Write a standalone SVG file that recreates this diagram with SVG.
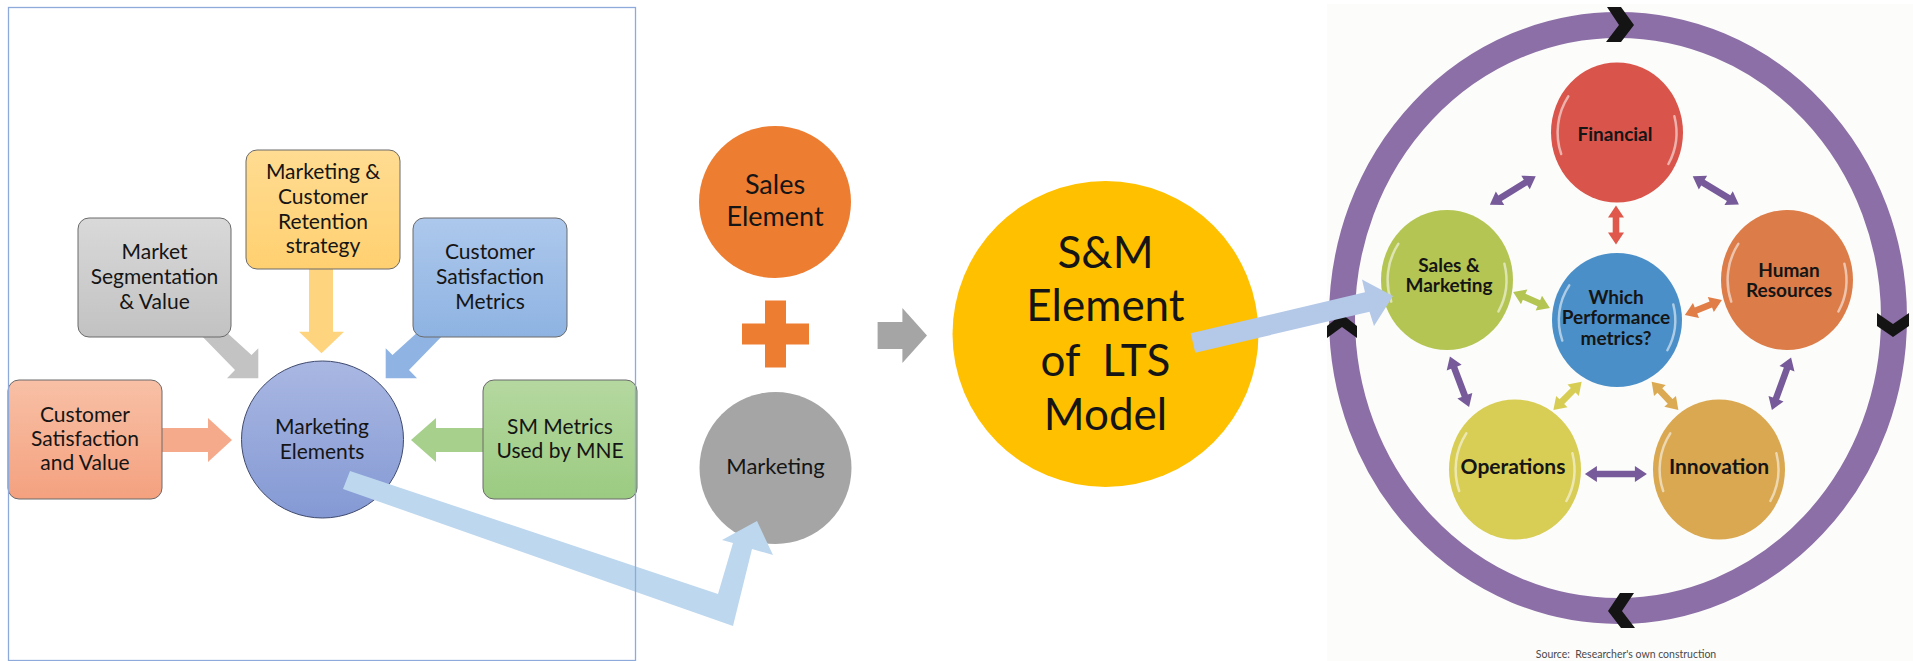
<svg xmlns="http://www.w3.org/2000/svg" width="1913" height="661" viewBox="0 0 1913 661">
  <style>
    .lbl { font-family: Lato, "Liberation Sans", sans-serif; fill: #151515; text-anchor: middle; }
    .box { stroke: #6a6a6a; stroke-width: 1; }
    .big { font-size: 21px; }
    .node { font-weight: bold; font-size: 19px; }
    .nodeL { font-weight: bold; font-size: 21px; }
    .chev { fill: #141414; }
    .gloss { fill: none; stroke: #ffffff; stroke-width: 2.5; stroke-opacity: 0.55; stroke-linecap: round; }
  </style>
  <defs>
    <linearGradient id="gGray" x1="0" y1="0" x2="0" y2="1"><stop offset="0" stop-color="#d9d9d9"/><stop offset="1" stop-color="#c2c2c2"/></linearGradient>
    <linearGradient id="gYellow" x1="0" y1="0" x2="0" y2="1"><stop offset="0" stop-color="#ffdc92"/><stop offset="1" stop-color="#ffd070"/></linearGradient>
    <linearGradient id="gBlue" x1="0" y1="0" x2="0" y2="1"><stop offset="0" stop-color="#adc8ec"/><stop offset="1" stop-color="#8eb3e2"/></linearGradient>
    <linearGradient id="gSalmon" x1="0" y1="0" x2="0" y2="1"><stop offset="0" stop-color="#f8c0a6"/><stop offset="1" stop-color="#f4a17f"/></linearGradient>
    <linearGradient id="gGreen" x1="0" y1="0" x2="0" y2="1"><stop offset="0" stop-color="#b5d8a0"/><stop offset="1" stop-color="#9bcb81"/></linearGradient>
    <linearGradient id="gCircle" x1="0" y1="0" x2="0" y2="1"><stop offset="0" stop-color="#a9b7e2"/><stop offset="1" stop-color="#8499d4"/></linearGradient>

    <!-- double-headed arrows along x, centred on the origin -->
    <polygon id="d39" points="-19.5,0 -7.5,-8 -7.5,-3.3 7.5,-3.3 7.5,-8 19.5,0 7.5,8 7.5,3.3 -7.5,3.3 -7.5,8"/>
    <polygon id="d40" points="-20,0 -8,-8 -8,-3.3 8,-3.3 8,-8 20,0 8,8 8,3.3 -8,3.3 -8,8"/>
    <polygon id="d54" points="-27,0 -15,-8 -15,-3.3 15,-3.3 15,-8 27,0 15,8 15,3.3 -15,3.3 -15,8"/>
    <polygon id="d56" points="-28,0 -16,-8 -16,-3.3 16,-3.3 16,-8 28,0 16,8 16,3.3 -16,3.3 -16,8"/>
    <polygon id="d62" points="-31,0 -19,-8 -19,-3.3 19,-3.3 19,-8 31,0 19,8 19,3.3 -19,3.3 -19,8"/>

    <!-- glossy rim highlights for the round nodes -->
    <g id="shine">
      <path class="gloss" d="M -48.7,-36.1 A 59.4 63 0 0 0 -55.8,21.5"/>
      <path class="gloss" d="M 57.4,-16.3 A 59.4 63 0 0 1 51.4,31.5"/>
    </g>
  </defs>

  <rect width="1913" height="661" fill="#ffffff"/>

  <!-- ===== left panel: marketing elements ===== -->
  <g id="left-connectors">
    <polygon fill="#c3c3c3" points="196,330 224,330 251.5,355 258.3,348.3 258.3,378.3 227,378.3 235,370"/>
    <polygon fill="#ffd47e" points="309,262 333,262 333,331.7 344,331.7 321.5,353.3 299,331.7 309,331.7"/>
    <polygon fill="#8fb4e3" points="448,330 420,330 392.5,355 385.7,348.3 385.7,378.3 417,378.3 409,370"/>
    <polygon fill="#f5aa8b" points="160,428 208,428 208,418 232,440 208,462 208,452 160,452"/>
    <polygon fill="#a7d08c" points="485,428 436,428 436,418 411,440 436,462 436,452 485,452"/>
  </g>

  <g id="market-segmentation">
    <rect class="box" x="78" y="218" width="153" height="119" rx="11" fill="url(#gGray)"/>
    <text class="lbl big"><tspan x="154.5" y="259">Market</tspan><tspan x="154.5" y="283.5">Segmentation</tspan><tspan x="154.5" y="308.5">&amp; Value</tspan></text>
  </g>
  <g id="retention-strategy">
    <rect class="box" x="246" y="150" width="154" height="119" rx="11" fill="url(#gYellow)"/>
    <text class="lbl big"><tspan x="323" y="179">Marketing &amp;</tspan><tspan x="323" y="204">Customer</tspan><tspan x="323" y="228.5">Retention</tspan><tspan x="323" y="252.5">strategy</tspan></text>
  </g>
  <g id="satisfaction-metrics">
    <rect class="box" x="413" y="218" width="154" height="119" rx="11" fill="url(#gBlue)"/>
    <text class="lbl big"><tspan x="490" y="259">Customer</tspan><tspan x="490" y="284">Satisfaction</tspan><tspan x="490" y="308.5">Metrics</tspan></text>
  </g>
  <g id="satisfaction-value">
    <rect class="box" x="8" y="380" width="154" height="119" rx="11" fill="url(#gSalmon)"/>
    <text class="lbl big"><tspan x="85" y="422">Customer</tspan><tspan x="85" y="446">Satisfaction</tspan><tspan x="85" y="470">and Value</tspan></text>
  </g>
  <g id="sm-metrics">
    <rect class="box" x="483" y="380" width="154" height="119" rx="11" fill="url(#gGreen)"/>
    <text class="lbl big"><tspan x="560" y="433.5">SM Metrics</tspan><tspan x="560" y="457.5">Used by MNE</tspan></text>
  </g>
  <g id="marketing-elements">
    <ellipse cx="322.5" cy="439.5" rx="81" ry="78.5" fill="url(#gCircle)" stroke="#3f4a6e" stroke-width="1"/>
    <text class="lbl big"><tspan x="322" y="434">Marketing</tspan><tspan x="322" y="459">Elements</tspan></text>
  </g>

  <!-- ===== middle: sales + marketing ===== -->
  <g id="sales-element">
    <circle cx="775" cy="202" r="76" fill="#ed7d31"/>
    <text class="lbl" font-size="27"><tspan x="775" y="194">Sales</tspan><tspan x="775" y="225.5">Element</tspan></text>
  </g>
  <g id="plus">
    <path fill="#ed7d31" d="M765,300.5 h21 v23 h23 v21 h-23 v23 h-21 v-23 h-23 v-21 h23 z"/>
  </g>
  <g id="marketing">
    <circle cx="775.5" cy="468" r="76" fill="#a5a5a5"/>
    <text class="lbl" font-size="22" x="775.5" y="474">Marketing</text>
  </g>
  <g id="sm-element">
    <circle cx="1105.5" cy="334" r="153" fill="#ffc000"/>
    <text class="lbl" font-size="44" xml:space="preserve"><tspan x="1105.5" y="267.5">S&amp;M</tspan><tspan x="1105.5" y="321">Element</tspan><tspan x="1105.5" y="375.5">of  LTS</tspan><tspan x="1105.5" y="430">Model</tspan></text>
  </g>

  <!-- ===== right panel: performance metrics cycle ===== -->
  <g id="cycle">
    <rect x="1327" y="4" width="586" height="657" fill="#fcfcfa"/>
    <ellipse cx="1618" cy="318" rx="276" ry="293" fill="none" stroke="#8c6fa6" stroke-width="26"/>
    <polygon class="chev" points="1607,7 1621,7 1634,25 1621,42 1606,42 1619,25"/>
    <polygon class="chev" points="1877,313 1893,324 1909,313 1909,326 1893,337 1877,326"/>
    <polygon class="chev" points="1634,593 1620,593 1608,611 1621,628 1635,628 1622,611"/>
    <polygon class="chev" points="1327,338 1327,326 1342,314 1357,326 1357,338 1342,327"/>
  </g>

  <g id="cycle-connectors">
    <use href="#d54" fill="#765a9a" transform="translate(1512.8,190.4) rotate(-31.8)"/>
    <use href="#d54" fill="#765a9a" transform="translate(1715.8,190.4) rotate(31.3)"/>
    <use href="#d39" fill="#e0574b" transform="translate(1616,225) rotate(90)"/>
    <use href="#d40" fill="#b4c552" transform="translate(1531.5,300) rotate(23.4)"/>
    <use href="#d40" fill="#e17e47" transform="translate(1703.4,307.5) rotate(-22.2)"/>
    <use href="#d54" fill="#765a9a" transform="translate(1459.5,381.7) rotate(69.2)"/>
    <use href="#d56" fill="#765a9a" transform="translate(1781.5,383.7) rotate(110)"/>
    <use href="#d40" fill="#d7cd55" transform="translate(1567.5,395.9) rotate(135)"/>
    <use href="#d39" fill="#dcaa52" transform="translate(1665,395.9) rotate(46.8)"/>
    <use href="#d62" fill="#765a9a" transform="translate(1615.9,474)"/>
  </g>

  <g id="financial">
    <ellipse cx="1617" cy="132.5" rx="66" ry="70" fill="#d9544a"/>
    <use href="#shine" transform="translate(1617,132.5)"/>
    <text class="lbl node" x="1615" y="141">Financial</text>
  </g>
  <g id="sales-marketing">
    <ellipse cx="1447" cy="280" rx="66" ry="70" fill="#b5c553"/>
    <use href="#shine" transform="translate(1447,280)"/>
    <text class="lbl node"><tspan x="1449" y="272">Sales &amp;</tspan><tspan x="1449" y="292">Marketing</tspan></text>
  </g>
  <g id="which-metrics">
    <ellipse cx="1617" cy="320" rx="65" ry="67" fill="#4a8fc8"/>
    <use href="#shine" transform="translate(1617,320) scale(0.98,0.96)"/>
    <text class="lbl node"><tspan x="1616" y="303.5">Which</tspan><tspan x="1616" y="324">Performance</tspan><tspan x="1616" y="344.5">metrics?</tspan></text>
  </g>
  <g id="human-resources">
    <ellipse cx="1787" cy="280" rx="66" ry="70" fill="#dc7c48"/>
    <use href="#shine" transform="translate(1787,280)"/>
    <text class="lbl node"><tspan x="1789" y="277">Human</tspan><tspan x="1789" y="297">Resources</tspan></text>
  </g>
  <g id="operations">
    <ellipse cx="1515" cy="469.5" rx="66" ry="70" fill="#d8cd55"/>
    <use href="#shine" transform="translate(1515,469.5)"/>
    <text class="lbl nodeL" x="1513" y="474">Operations</text>
  </g>
  <g id="innovation">
    <ellipse cx="1719" cy="469.5" rx="66" ry="70" fill="#d9a851"/>
    <use href="#shine" transform="translate(1719,469.5)"/>
    <text class="lbl nodeL" x="1719" y="474">Innovation</text>
  </g>

  <text x="1626" y="658" font-family="Lato, 'Liberation Sans', sans-serif" font-size="10.5" fill="#4a4a4a" text-anchor="middle" xml:space="preserve">Source:  Researcher's own construction</text>

  <!-- ===== flow connectors between the three stages ===== -->
  <g id="connectors">
    <polygon fill="#a5a5a5" points="877.6,322 902.4,322 902.4,308 927,335.5 902.4,363 902.4,349 877.6,349"/>
    <polygon fill="#bdd7ee" points="350,471 718,594 733,543 722,540 757,521 773,555 752,549 733,626 343,489"/>
    <polygon fill="#b4c8e8" points="1190.7,333.3 1365,292.3 1362,279.5 1393,296 1374,326 1369.5,311.7 1195.3,352.7"/>
  </g>

  <!-- panel frame -->
  <rect x="8.5" y="7.5" width="627" height="653" fill="none" stroke="#8eaadb" stroke-width="1.3"/>
</svg>
